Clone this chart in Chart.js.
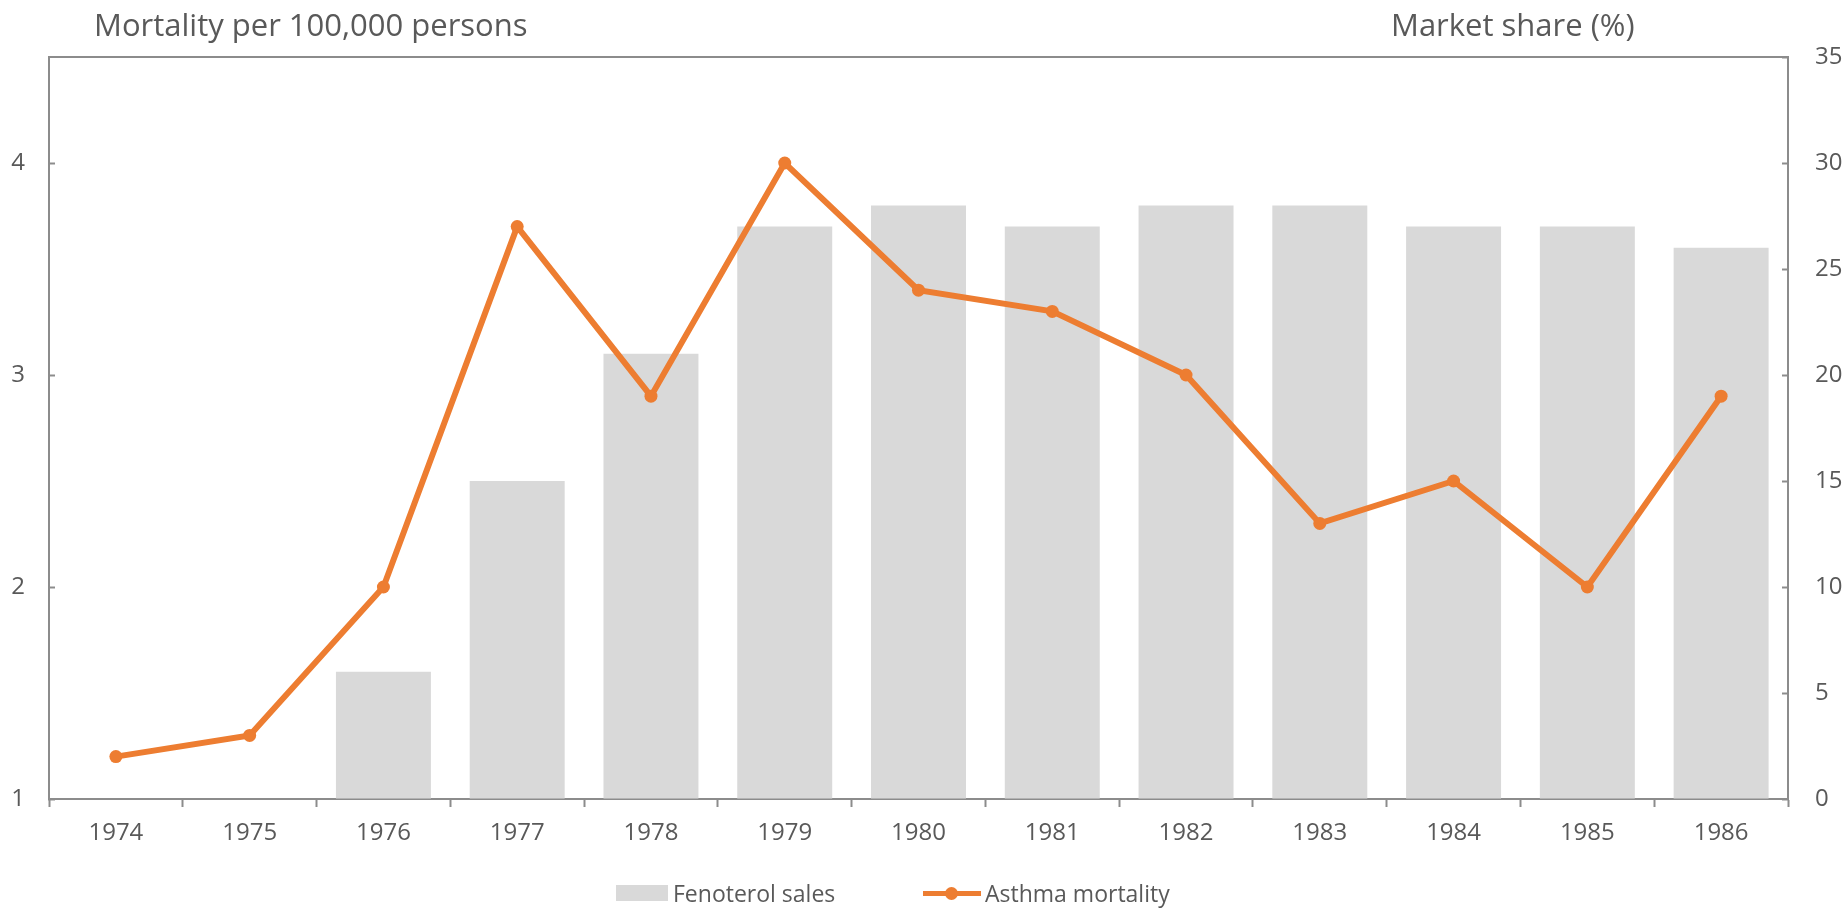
<!DOCTYPE html>
<html>
<head>
<meta charset="utf-8">
<script src="https://cdn.jsdelivr.net/npm/chart.js@4"></script>
<style>
    body { margin: 0; background: #fff; }
    #wrap { position: relative; width: 1848px; height: 910px; font-family: "Open Sans", sans-serif; color: #595959; }
    .axis-title { position: absolute; top: 3px; font-size: 31px; white-space: nowrap; }
    #legend { position: absolute; top: 878px; left: 0; width: 1848px; height: 30px; font-size: 23px; }
    .leg-item { position: absolute; top: 0; height: 30px; display: flex; align-items: center; }
    .leg-box { width: 52px; height: 16px; background: #d9d9d9; margin-right: 5px; }
    .leg-line { position: relative; width: 58px; height: 5px; background: #ed7d31; margin-right: 4px; }
    .leg-line::after { content: ''; position: absolute; left: 22px; top: -4px; width: 13px; height: 13px; border-radius: 50%; background: #ed7d31; }
</style>
</head>
<body>
<div id="wrap">
    <canvas id="chart" width="1848" height="910"></canvas>
    <div class="axis-title" style="left: 94px;">Mortality per 100,000 persons</div>
    <div class="axis-title" style="left: 1391px;">Market share (%)</div>
    <div id="legend">
        <div class="leg-item" style="left: 616px;"><span class="leg-box"></span>Fenoterol sales</div>
        <div class="leg-item" style="left: 923px;"><span class="leg-line"></span>Asthma mortality</div>
    </div>
</div>
<script>
const years = ['1974', '1975', '1976', '1977', '1978', '1979', '1980', '1981', '1982', '1983', '1984', '1985', '1986'];
const mortality = [1.2, 1.3, 2.0, 3.7, 2.9, 4.0, 3.4, 3.3, 3.0, 2.3, 2.5, 2.0, 2.9];
const fenoterolSales = [null, null, 6, 15, 21, 27, 28, 27, 28, 28, 27, 27, 26];

const axisColor = '#8c8c8c';
const textColor = '#595959';
const tickFont = { family: 'Open Sans', size: 24 };

// top edge of the plot box
const topBorder = {
    id: 'topBorder',
    afterDraw(chart) {
        const { ctx, chartArea } = chart;
        ctx.save();
        ctx.strokeStyle = axisColor;
        ctx.lineWidth = 2;
        ctx.beginPath();
        ctx.moveTo(chartArea.left, chartArea.top);
        ctx.lineTo(chartArea.right, chartArea.top);
        ctx.stroke();
        ctx.restore();
    }
};

const ctx = document.getElementById('chart').getContext('2d');
new Chart(ctx, {
    data: {
        labels: years,
        datasets: [{
            type: 'line',
            label: 'Asthma mortality',
            data: mortality,
            yAxisID: 'y',
            borderColor: '#ed7d31',
            backgroundColor: '#ed7d31',
            borderWidth: 6,
            pointRadius: 6.5,
            pointBackgroundColor: '#ed7d31',
            pointBorderWidth: 0,
            tension: 0,
            order: 0
        }, {
            type: 'bar',
            label: 'Fenoterol sales',
            data: fenoterolSales,
            yAxisID: 'y1',
            backgroundColor: '#d9d9d9',
            categoryPercentage: 1,
            barPercentage: 0.71,
            order: 1
        }]
    },
    options: {
        responsive: false,
        animation: false,
        layout: { padding: { top: 57, bottom: 51, left: 0, right: 0 } },
        plugins: {
            legend: { display: false },
            tooltip: { enabled: false }
        },
        scales: {
            x: {
                offset: true,
                grid: { display: true, offset: true, drawOnChartArea: false, tickLength: 8, tickColor: axisColor, tickWidth: 2 },
                border: { display: true, color: axisColor, width: 2 },
                ticks: { color: textColor, font: tickFont, padding: 12, maxRotation: 0 },
                afterFit: s => { s.height = 60; }
            },
            y: {
                position: 'left',
                min: 1,
                max: 4.5,
                afterBuildTicks: s => { s.ticks = s.ticks.filter(t => Number.isInteger(t.value)); },
                grid: { display: true, drawOnChartArea: false, tickLength: -6, tickColor: axisColor, tickWidth: 2 },
                border: { display: true, color: axisColor, width: 2 },
                ticks: { stepSize: 1, color: textColor, font: tickFont, padding: 30 },
                afterFit: s => { s.width = 49; }
            },
            y1: {
                position: 'right',
                min: 0,
                max: 35,
                grid: { display: true, drawOnChartArea: false, tickLength: -6, tickColor: axisColor, tickWidth: 2 },
                border: { display: true, color: axisColor, width: 2 },
                ticks: { stepSize: 5, color: textColor, font: tickFont, padding: 33 },
                afterFit: s => { s.width = 60; }
            }
        }
    },
    plugins: [topBorder]
});
</script>
</body>
</html>
